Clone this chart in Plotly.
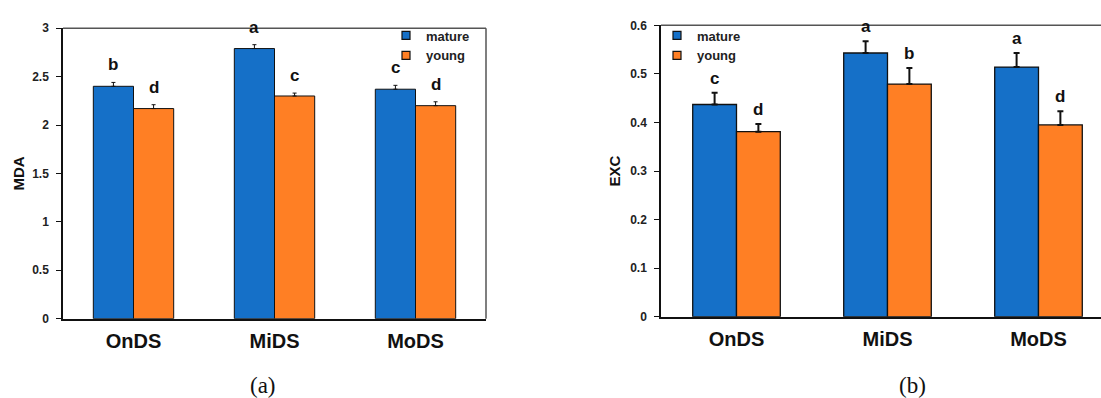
import plotly.graph_objects as go

W, H = 1101, 398

categories = ["OnDS", "MiDS", "MoDS"]
series_names = ["mature", "young"]

# Panel (a): MDA
mda_mature = [2.40, 2.79, 2.37]
mda_young = [2.17, 2.30, 2.20]
mda_mature_err = [0.04, 0.04, 0.04]
mda_young_err = [0.04, 0.03, 0.04]
mda_mature_letters = ["b", "a", "c"]
mda_young_letters = ["d", "c", "d"]
mda_ticks = [0, 0.5, 1, 1.5, 2, 2.5, 3]

# Panel (b): EXC
exc_mature = [0.437, 0.543, 0.514]
exc_young = [0.381, 0.479, 0.395]
exc_mature_err = [0.024, 0.024, 0.029]
exc_young_err = [0.016, 0.033, 0.028]
exc_mature_letters = ["c", "a", "a"]
exc_young_letters = ["d", "b", "d"]
exc_ticks = [0, 0.1, 0.2, 0.3, 0.4, 0.5, 0.6]

BLUE = "#1570C8"
ORANGE = "#FF7F24"
FONT = "Liberation Sans"

fig = go.Figure()

def add_panel(xa, ya, mat, yng, mat_e, yng_e, err_w, err_t, line_w, legend):
    for name, vals, errs, col in [("mature", mat, mat_e, BLUE), ("young", yng, yng_e, ORANGE)]:
        fig.add_trace(go.Bar(
            x=categories, y=vals, name=name, xaxis=xa, yaxis=ya,
            marker=dict(color=col, line=dict(color="#111111", width=line_w)),
            error_y=dict(type="data", array=errs, arrayminus=[0] * len(errs),
                         symmetric=False, color="#111111", thickness=err_t, width=err_w),
            showlegend=False, offsetgroup=name,
        ))
        fig.add_trace(go.Scatter(
            x=[None], y=[None], mode="markers", name=name, xaxis=xa, yaxis=ya,
            marker=dict(symbol="square", size=8, color=col, line=dict(color="#111111", width=1.2)),
            legend=legend, showlegend=True,
        ))

add_panel("x", "y", mda_mature, mda_young, mda_mature_err, mda_young_err, 2, 1, 1, "legend")
add_panel("x2", "y2", exc_mature, exc_young, exc_mature_err, exc_young_err, 3, 2, 1.3, "legend2")

# domains in paper fractions
L1x = [63 / W, 486 / W]
L1y = [1 - 323 / H, 1 - 22 / H]
L2x = [661 / W, 1.0]
L2y = [1 - 321 / H, 1 - 19 / H]

tickfont = dict(family=FONT, size=12, color="#222222", weight="bold")
xtickfont = dict(family=FONT, size=20, color="#111111", weight="bold")

bargap1 = 0.43
bargap2 = 0.42

fig.update_layout(
    width=W, height=H, margin=dict(l=0, r=0, t=0, b=0),
    paper_bgcolor="white", plot_bgcolor="white",
    barmode="group", bargap=bargap1, bargroupgap=0,
    xaxis=dict(domain=L1x, anchor="y", range=[-0.5, 2.5], showgrid=False,
               showline=True, linecolor="#111111", linewidth=1.5, ticks="",
               tickfont=xtickfont, ticklabelstandoff=4),
    yaxis=dict(domain=L1y, anchor="x", range=[0, 3], tickvals=mda_ticks,
               ticktext=[f"{t:g}" for t in mda_ticks], showgrid=False, zeroline=False,
               showline=True, linecolor="#111111", linewidth=1.5, ticks="outside",
               ticklen=5, tickcolor="#111111", tickfont=tickfont, ticklabelstandoff=5,
               title=dict(text="MDA", font=dict(family=FONT, size=15, color="#111111", weight="bold"), standoff=4)),
    xaxis2=dict(domain=L2x, anchor="y2", range=[-0.5, 2.414], showgrid=False,
                showline=True, linecolor="#111111", linewidth=1.5, ticks="",
                tickfont=xtickfont, ticklabelstandoff=4),
    yaxis2=dict(domain=L2y, anchor="x2", range=[0, 0.6], tickvals=exc_ticks,
                ticktext=[f"{t:g}" for t in exc_ticks], showgrid=False, zeroline=False,
                showline=True, linecolor="#111111", linewidth=1.5, ticks="outside",
                ticklen=5, tickcolor="#111111", tickfont=tickfont, ticklabelstandoff=5,
                title=dict(text="EXC", font=dict(family=FONT, size=15, color="#111111", weight="bold"), standoff=6)),
    legend=dict(x=386 / W, y=1 - 14 / H, xanchor="left", yanchor="top",
                bgcolor="rgba(0,0,0,0)", font=dict(family=FONT, size=13, color="#222222", weight="bold"),
                tracegroupgap=0, itemwidth=30),
    legend2=dict(x=657 / W, y=1 - 14 / H, xanchor="left", yanchor="top",
                 bgcolor="rgba(0,0,0,0)", font=dict(family=FONT, size=13, color="#222222", weight="bold"),
                 tracegroupgap=0, itemwidth=30),
)

# second panel uses its own bargap via per-trace width/offset
w2 = (1 - bargap2) / 2
for tr in fig.data:
    if tr.type == "bar" and tr.xaxis == "x2":
        tr.width = w2
        tr.offset = -w2 if tr.name == "mature" else 0

# frame lines (top and right of panel a, top of panel b)
shapes = [
    dict(type="line", xref="x domain", yref="y domain", x0=0, x1=1, y0=1, y1=1, line=dict(color="#555555", width=1.5)),
    dict(type="line", xref="x domain", yref="y domain", x0=1, x1=1, y0=0, y1=1, line=dict(color="#555555", width=1.5)),
    dict(type="line", xref="x2 domain", yref="y2 domain", x0=0, x1=1, y0=1, y1=1, line=dict(color="#555555", width=1.5)),
]
fig.update_layout(shapes=shapes)

# significance letters
ann = []
off1 = (1 - bargap1) / 4
off2 = w2 / 2
for i in range(len(categories)):
    for letters, vals, errs, sgn, xr, yr, off, ys in [
        (mda_mature_letters, mda_mature, mda_mature_err, -1, "x", "y", off1, 6),
        (mda_young_letters, mda_young, mda_young_err, 1, "x", "y", off1, 6),
        (exc_mature_letters, exc_mature, exc_mature_err, -1, "x2", "y2", off2, 3),
        (exc_young_letters, exc_young, exc_young_err, 1, "x2", "y2", off2, 3),
    ]:
        ann.append(dict(x=i + sgn * off, y=vals[i] + errs[i], xref=xr, yref=yr,
                        text=letters[i], showarrow=False, yanchor="bottom", yshift=ys,
                        font=dict(family=FONT, size=17, color="#111111", weight="bold")))

ann.append(dict(x=248 / W, y=1 - 392 / H, xref="paper", yref="paper", text="(a)", showarrow=False,
                yanchor="middle", font=dict(family="Liberation Serif", size=23, color="#111111")))
ann.append(dict(x=928 / W, y=1 - 392 / H, xref="paper", yref="paper", text="(b)", showarrow=False,
                yanchor="middle", font=dict(family="Liberation Serif", size=23, color="#111111")))
fig.update_layout(annotations=ann)

fig.write_html("out.html")
